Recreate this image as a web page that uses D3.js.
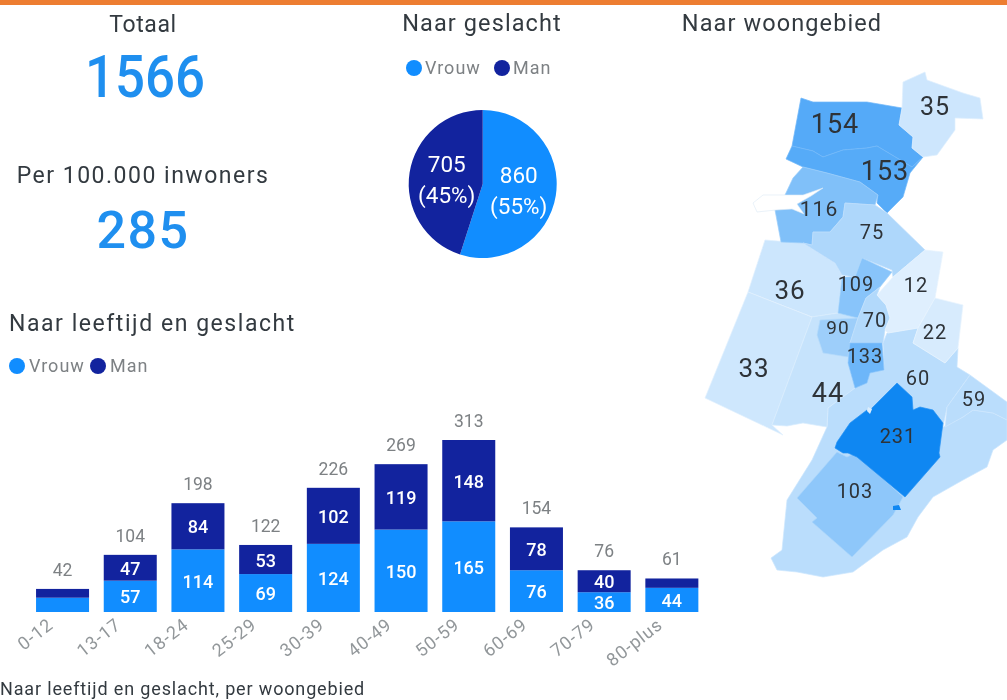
<!DOCTYPE html>
<html><head><meta charset="utf-8">
<script src="https://cdn.jsdelivr.net/npm/d3@7/dist/d3.min.js"></script>
<style>html,body{margin:0;padding:0;background:#fff;overflow:hidden}svg{display:block;filter:blur(.55px)}text{font-family:Roboto,"Open Sans",sans-serif}</style>
</head><body><div id="chart"></div>
<script>
const ageGroups=["0-12","13-17","18-24","25-29","30-39","40-49","50-59","60-69","70-79","80-plus"];
const vrouwByAge=[26,57,114,69,124,150,165,76,36,44];
const manByAge=[16,47,84,53,102,119,148,78,40,17];
const totalByAge=[42,104,198,122,226,269,313,154,76,61];
const genderNames=["Vrouw","Man"];
const genderValues=[860,705];
const genderShares=["(55%)","(45%)"];
const totalCases=1566;
const per100k=285;
const districtValues=[60,59,36,33,44,154,153,116,75,109,90,70,133,12,22,103,231,35];
const districtShapes=[
 [[887,333],[918,328],[913,343],[945,363],[958,348],[957,367],[970,375],[947,407],[943,427],[963,417],[973,410],[993,413],[1007,420],[1007,440],[993,450],[987,467],[963,480],[933,497],[918,517],[907,537],[883,550],[853,572],[823,577],[797,572],[777,570],[771,558],[782,550],[787,500],[812,460],[827,427],[828,408],[853,388],[867,383],[870,373],[884,370],[883,343]],
 [[970,375],[1007,402],[1007,420],[993,413],[973,410],[963,417],[945,427],[947,407]],
 [[765,240],[803,243],[835,263],[842,275],[838,313],[812,317],[748,292]],
 [[748,292],[812,317],[772,425],[783,435],[705,398]],
 [[812,317],[838,313],[863,317],[850,343],[848,363],[855,388],[828,408],[827,427],[803,423],[787,426],[772,425]],
 [[801,98],[813,102],[867,102],[902,108],[899,125],[913,137],[912,148],[923,157],[912,167],[877,146],[867,148],[843,150],[823,157],[813,151],[792,146]],
 [[792,146],[813,151],[823,157],[843,150],[867,148],[877,146],[912,167],[923,157],[910,173],[903,197],[887,213],[877,203],[878,195],[860,182],[827,173],[803,167],[786,159]],
 [[803,167],[827,173],[860,182],[878,195],[875,205],[845,203],[843,217],[830,232],[813,232],[812,245],[803,243],[781,242],[775,210],[785,195],[793,178]],
 [[845,203],[875,205],[887,213],[925,250],[893,277],[892,270],[862,258],[855,277],[842,275],[835,263],[803,243],[812,245],[813,232],[830,232],[843,217]],
 [[862,258],[892,272],[880,287],[866,298],[858,318],[838,313],[842,277],[855,277]],
 [[820,320],[858,318],[850,343],[848,357],[823,353],[817,335]],
 [[880,287],[877,295],[886,305],[890,318],[885,330],[883,343],[850,343],[858,318],[866,298]],
 [[850,343],[882,343],[884,370],[870,373],[867,383],[855,388],[848,363]],
 [[925,250],[943,252],[935,298],[918,328],[888,333],[885,330],[890,318],[886,305],[877,295],[893,277]],
 [[935,298],[963,305],[958,348],[945,363],[913,343],[918,328]],
 [[837,452],[847,457],[855,453],[903,497],[893,515],[852,557],[812,522],[817,518],[797,498]],
 [[897,383],[912,397],[913,410],[920,407],[933,410],[943,423],[939,453],[940,457],[905,497],[857,457],[848,453],[843,453],[835,448],[837,442],[850,423],[867,410],[870,413],[872,408],[890,390]],
 [[903,82],[925,72],[927,80],[963,93],[980,98],[983,119],[955,118],[955,130],[937,155],[923,157],[912,148],[913,137],[899,125],[902,108]]
];
const waterShape=[[753,203],[763,195],[803,195],[823,188],[811,196],[797,204],[804,214],[792,209],[776,210],[757,212]];
const islandShape=[[893,506],[899,505],[901,510],[893,510]];
const nickShape=[[868,407],[872,409],[870,414],[867,411]];
const districtLabelPlacement=[
 [918,378,20],[974,399,20],[790,290,26],[754,368,26],[828,392,27],[835,123,27],[885,170,27],[819,208,21],[872,232,20],[856,284,20],[838,327,19],[875,320,20],[865,356,20],[916,285,20],[935,332,20],[855,491,20],[898,436,20],[935,106,25]
];

const W=1007,H=700;
const svg=d3.select("#chart").append("svg").attr("width",W).attr("height",H);
const ORANGE="#ed7d31",LIGHT="#118dff",DARK="#12239e",BIG="#1f8fef",INK="#333a40",GREY="#7d8184";
svg.append("rect").attr("width",W).attr("height",5).attr("fill",ORANGE);

const txt=(x,y,s,size,fill,anchor="middle",ls=.4)=>svg.append("text").attr("x",x).attr("y",y).text(s)
 .attr("font-size",size).attr("fill",fill).attr("text-anchor",anchor).attr("letter-spacing",ls);

txt(143,32,"Totaal",23,INK,"middle",.6);
txt(145,97,d3.format("d")(totalCases),59,BIG,"middle",0).attr("textLength",120).attr("lengthAdjust","spacingAndGlyphs").attr("font-weight",500);
txt(143,183,"Per 100.000 inwoners",23,INK,"middle",1.5);
txt(143,248,d3.format("d")(per100k),52,BIG,"middle",1.5).attr("font-weight",500);
txt(482,31,"Naar geslacht",23.5,INK,"middle",1.1);
txt(782,31,"Naar woongebied",23.5,INK,"middle",1.1);
txt(9,331,"Naar leeftijd en geslacht",23,INK,"start",1.55);
txt(0,695,"Naar leeftijd en geslacht, per woongebied",18,INK,"start",.85);

function legend(positions){
 genderNames.forEach((n,i)=>{
  const [cx,tx,y]=positions[i];
  svg.append("circle").attr("cx",cx).attr("cy",y).attr("r",8).attr("fill",i?DARK:LIGHT);
  txt(tx,y+6,n,18,GREY,"start",1);
 });
}
legend([[414,425,68],[502,513,68]]);
legend([[17,29,366],[98,110,366]]);

// pie
const pieG=svg.append("g").attr("transform","translate(482.7,184)");
const arcs=d3.pie().sort(null)(genderValues);
const arc=d3.arc().innerRadius(0).outerRadius(74);
pieG.selectAll("path").data(arcs).join("path").attr("d",arc).attr("fill",(d,i)=>i?DARK:LIGHT);
const pieLabelOffsets=[[36,-8],[-36,-19]];
arcs.forEach((a,i)=>{
 const g=pieG.append("g").attr("transform",`translate(${pieLabelOffsets[i]})`);
 g.append("text").attr("text-anchor","middle").attr("y",7).attr("font-size",22.5).attr("fill","#fff").text(genderValues[i]);
 g.append("text").attr("text-anchor","middle").attr("y",38).attr("font-size",22.5).attr("fill","#fff").text(genderShares[i]);
});

// stacked bars
const x=d3.scaleBand().domain(ageGroups).range([28.7,705.7]).paddingInner(.217).paddingOuter(.1085);
const y=d3.scaleLinear().domain([0,313]).range([612,440]);
const rows=ageGroups.map((a,i)=>({age:a,Vrouw:vrouwByAge[i],Man:manByAge[i],total:totalByAge[i]}));
const stacked=d3.stack().keys(genderNames)(rows);
stacked.forEach((s,k)=>{
 const g=svg.append("g");
 g.selectAll("rect").data(s).join("rect").attr("x",d=>x(d.data.age)).attr("width",x.bandwidth())
  .attr("y",d=>y(d[1])).attr("height",d=>y(d[0])-y(d[1])).attr("fill",k?DARK:LIGHT);
 g.selectAll("text").data(s.filter(d=>y(d[0])-y(d[1])>=19)).join("text")
  .attr("x",d=>x(d.data.age)+x.bandwidth()/2).attr("y",d=>(y(d[0])+y(d[1]))/2+7)
  .attr("text-anchor","middle").attr("font-size",18).attr("font-weight",500).attr("fill","#fff")
  .text(d=>d[1]-d[0]);
});
svg.append("g").selectAll("text").data(rows).join("text")
 .attr("x",d=>x(d.age)+x.bandwidth()/2).attr("y",d=>y(d.total)-13)
 .attr("text-anchor","middle").attr("font-size",17.5).attr("fill",GREY).text(d=>d.total);
const axis=svg.append("g").attr("transform","translate(0,612)")
 .call(d3.axisBottom(x).tickSize(0).tickPadding(0));
axis.select(".domain").remove();
axis.selectAll("text").attr("font-size",18).attr("fill","#92979a").attr("text-anchor","end")
 .attr("dy",0).attr("transform","translate(-8,15) rotate(-38)").attr("letter-spacing",.9)
 .style("font-family","Roboto");

// choropleth
const color=d3.scaleLinear().domain([0,75,154,231]).range(["#e8f3fe","#aed7fb","#55aaf8","#0f87f2"]);
const geo=d3.geoPath(d3.geoIdentity());
const poly=c=>({type:"Polygon",coordinates:[[...c,c[0]]]});
const mapG=svg.append("g");
mapG.selectAll("path").data(districtShapes).join("path").attr("d",d=>geo(poly(d)))
 .attr("fill",(d,i)=>color(districtValues[i])).attr("stroke",(d,i)=>color(Math.max(0,districtValues[i]-25))).attr("stroke-width",.7).attr("stroke-linejoin","round");
mapG.append("path").attr("d",geo(poly(waterShape))).attr("fill","#fff").attr("stroke","#dbe9f5").attr("stroke-width",.6);
mapG.append("path").attr("d",geo(poly(nickShape))).attr("fill","#dcedfc");
mapG.append("path").attr("d",geo(poly(islandShape))).attr("fill",color(231));
mapG.selectAll("text").data(districtValues).join("text")
 .attr("x",(d,i)=>districtLabelPlacement[i][0]).attr("y",(d,i)=>districtLabelPlacement[i][1]+districtLabelPlacement[i][2]*.36)
 .attr("font-size",(d,i)=>districtLabelPlacement[i][2]).attr("text-anchor","middle").attr("fill","#2e3338").attr("letter-spacing",1)
 .text(d=>d);
</script></body></html>
